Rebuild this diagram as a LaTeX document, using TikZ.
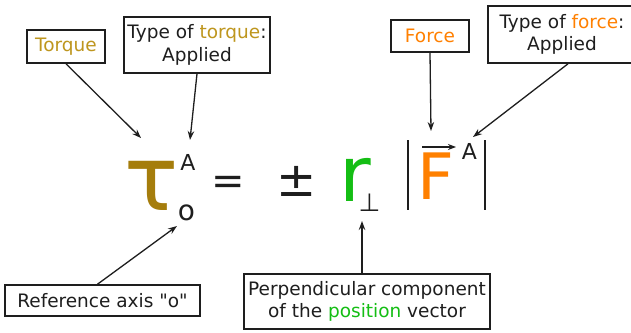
\documentclass[tikz,border=0pt]{standalone}
\usepackage{fontspec}
\setmainfont{DejaVu Sans}[Ligatures=TeXOff]
\usetikzlibrary{arrows.meta,calc}
\definecolor{goldtxt}{RGB}{190,150,30}
\definecolor{taucol}{RGB}{165,125,12}
\definecolor{orangecol}{RGB}{255,128,0}
\definecolor{greencol}{RGB}{20,190,20}
\definecolor{inkcol}{RGB}{30,30,30}
\begin{document}
\begin{tikzpicture}[x=1pt,y=-1pt,
  lbl/.style={draw=inkcol, line width=1.6pt, inner sep=0pt, align=center,
    font=\fontsize{18.5}{22.5}\selectfont, text=inkcol},
  pointer/.style={-{Stealth[length=9pt,width=6.5pt]}, line width=1.3pt, draw=inkcol},
  glyph/.style={inner sep=0pt, anchor=center, text=inkcol},
  bar/.style={line width=2pt, draw=inkcol}]
\useasboundingbox (0,0) rectangle (631,332);
\fill[white] (0,0) rectangle (631,332);
% label boxes
\node[lbl,minimum width=78pt,minimum height=33pt] (torque) at (66,46.5) {\textcolor{goldtxt}{Torque}};
\node[lbl,minimum width=146pt,minimum height=56pt] (ttype) at (197,45) {Type of \textcolor{goldtxt}{torque}:\\Applied};
\node[lbl,minimum width=78pt,minimum height=32pt] (force) at (430,36) {\textcolor{orangecol}{Force}};
\node[lbl,minimum width=148pt,minimum height=57pt] (ftype) at (562,34.5) {Type of \textcolor{orangecol}{force}:\\Applied};
\node[lbl,minimum width=195pt,minimum height=31pt] (refax) at (102.5,300.5) {Reference axis "o"};
\node[lbl,minimum width=246pt,minimum height=55pt] (perp) at (367,301.5) {Perpendicular component\\of the \textcolor{greencol}{position} vector};
% equation
\node[glyph,text=taucol,font=\fontsize{90}{90}\selectfont] (tau) at (152,185.5) {τ};
\node[glyph,font=\fontsize{22}{22}\selectfont] (tauA) at (188,162) {A};
\node[glyph,font=\fontsize{28}{28}\selectfont] (tauo) at (186.5,212.5) {o};
\node[glyph,font=\fontsize{40}{40}\selectfont] (eq) at (228,185) {=};
\node[glyph,font=\fontsize{48}{48}\selectfont] (pm) at (296.5,181) {±};
\node[glyph,text=greencol,font=\fontsize{77}{77}\selectfont] (r) at (355,180) {r};
\node[glyph,font=\fontsize{25}{25}\selectfont] (perpsym) at (369.5,203) {⊥};
\node[glyph,text=orangecol,font=\fontsize{64}{64}\selectfont] (F) at (436,176.5) {F};
\node[glyph,font=\fontsize{22}{22}\selectfont] (FA) at (469.5,151.5) {A};
\coordinate (barL1) at (408,140); \coordinate (barL2) at (408,210);
\coordinate (barR1) at (484.5,140); \coordinate (barR2) at (484.5,210);
\draw[bar] (barL1) -- (barL2);
\draw[bar] (barR1) -- (barR2);
\coordinate (vec1) at (422,147); \coordinate (vec2) at (456,147);
\draw[bar,-{Stealth[length=8pt,width=6pt]}] (vec1) -- (vec2);
% pointers
\coordinate (t1) at (141,138);
\coordinate (t2) at (190,140);
\coordinate (t3) at (431,131);
\coordinate (t4) at (473,137);
\coordinate (t5) at (177,226);
\coordinate (t6) at (362,221);
\draw[pointer] (torque.south) -- (t1);
\draw[pointer] (ttype.south) -- (t2);
\draw[pointer] (force.south) -- (t3);
\draw[pointer] ([xshift=6pt]ftype.south) -- (t4);
\draw[pointer] ([xshift=-5pt]refax.north) -- (t5);
\draw[pointer] ([xshift=-5pt]perp.north) -- (t6);
\end{tikzpicture}
\end{document}
